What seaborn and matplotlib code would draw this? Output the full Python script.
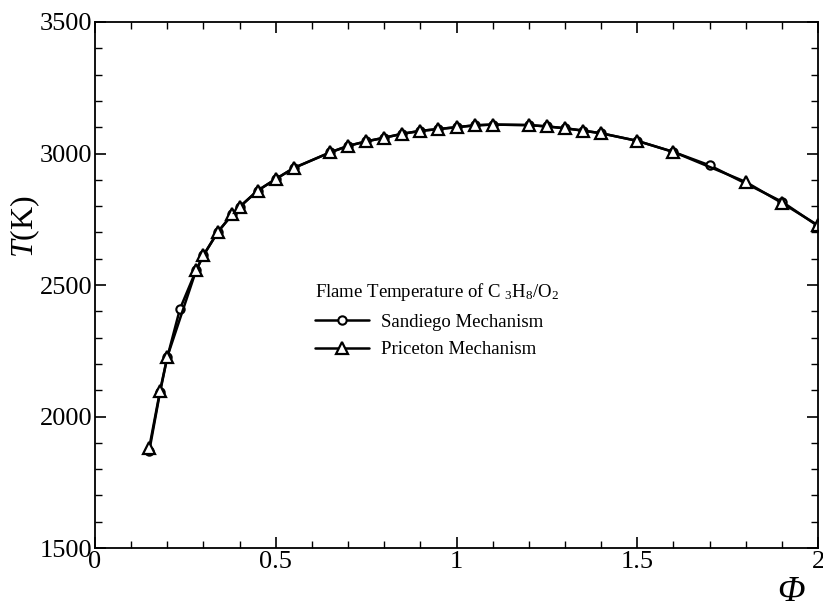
import numpy as np
import pandas as pd
import seaborn as sns
import matplotlib.pyplot as plt
from matplotlib.ticker import MultipleLocator

# data
phi_priceton = [0.15, 0.18, 0.20, 0.28, 0.30, 0.34, 0.38, 0.40, 0.45, 0.50, 0.55,
                0.65, 0.70, 0.75, 0.80, 0.85, 0.90, 0.95, 1.00, 1.05, 1.10,
                1.20, 1.25, 1.30, 1.35, 1.40, 1.50, 1.60, 1.80, 1.90, 2.00]
T_priceton = [1881, 2098, 2227, 2557, 2613, 2702, 2769, 2797, 2859, 2903, 2945,
              3004, 3029, 3046, 3060, 3075, 3086, 3093, 3100, 3107, 3110,
              3108, 3103, 3096, 3087, 3077, 3048, 3006, 2892, 2812, 2727]

phi_sandiego = [0.15, 0.18, 0.20, 0.235, 0.28, 0.30, 0.34, 0.38, 0.40, 0.45, 0.50, 0.55,
                0.65, 0.70, 0.75, 0.80, 0.85, 0.90, 0.95, 1.00, 1.05, 1.10,
                1.20, 1.25, 1.30, 1.35, 1.40, 1.50, 1.60, 1.70, 1.90, 2.00]
T_sandiego = [1868, 2093, 2225, 2409, 2557, 2613, 2702, 2769, 2797, 2859, 2903, 2945,
              3004, 3029, 3046, 3060, 3075, 3086, 3093, 3100, 3107, 3110,
              3108, 3103, 3096, 3087, 3077, 3048, 3006, 2955, 2817, 2724]

x_ticks = [0, 0.5, 1, 1.5, 2]
x_ticklabels = ['0', '0.5', '1', '1.5', '2']
label_sandiego = 'Sandiego Mechanism'
label_priceton = 'Priceton Mechanism'
legend_title = 'Flame Temperature of C $_3$H$_8$/O$_2$'

sns.set_style('ticks')
plt.rcParams['font.family'] = ['Liberation Serif', 'DejaVu Serif']
plt.rcParams['mathtext.fontset'] = 'custom'
plt.rcParams['mathtext.rm'] = 'Liberation Serif'
plt.rcParams['mathtext.it'] = 'Liberation Serif:italic'
plt.rcParams['text.color'] = 'black'
plt.rcParams['axes.labelcolor'] = 'black'
plt.rcParams['xtick.color'] = 'black'
plt.rcParams['ytick.color'] = 'black'
plt.rcParams['axes.edgecolor'] = 'black'

fig = plt.figure(figsize=(8.23, 6.09), dpi=100)
ax = fig.add_axes([0.1154, 0.100, 0.8786, 0.8639])

sns.lineplot(x=phi_sandiego, y=T_sandiego, ax=ax, color='black', linewidth=1.8,
             marker='o', markersize=6, markerfacecolor='white',
             markeredgecolor='black', markeredgewidth=1.5, label=label_sandiego)
sns.lineplot(x=phi_priceton, y=T_priceton, ax=ax, color='black', linewidth=1.8,
             marker='^', markersize=8, markerfacecolor='white',
             markeredgecolor='black', markeredgewidth=1.6, label=label_priceton)

ax.set_xlim(0, 2)
ax.set_ylim(1500, 3500)
ax.set_xticks(x_ticks)
ax.set_xticklabels(x_ticklabels)
ax.xaxis.set_minor_locator(MultipleLocator(0.1))
ax.yaxis.set_major_locator(MultipleLocator(500))
ax.yaxis.set_minor_locator(MultipleLocator(100))

for s in ax.spines.values():
    s.set_visible(True)
    s.set_linewidth(1.3)
ax.tick_params(which='both', direction='in', top=True, right=True, labelsize=19, pad=2)
ax.tick_params(which='major', length=8, width=1.2)
ax.tick_params(which='minor', length=5, width=1.0)

ax.set_xlabel('')
ax.set_ylabel('$T$(K)', fontsize=23)
ax.yaxis.set_label_coords(-0.073, 0.612)
ax.text(0.962, -0.085, 'Φ', transform=ax.transAxes, fontsize=26,
        ha='center', va='center', style='italic')

leg = ax.legend(title=legend_title, loc='upper left', bbox_to_anchor=(0.286, 0.532),
                frameon=False, fontsize=13.5, title_fontsize=13.5, alignment='left',
                handlelength=2.9, handletextpad=0.6, labelspacing=0.55,
                borderpad=0.2)

plt.savefig('out.png', dpi=100)
